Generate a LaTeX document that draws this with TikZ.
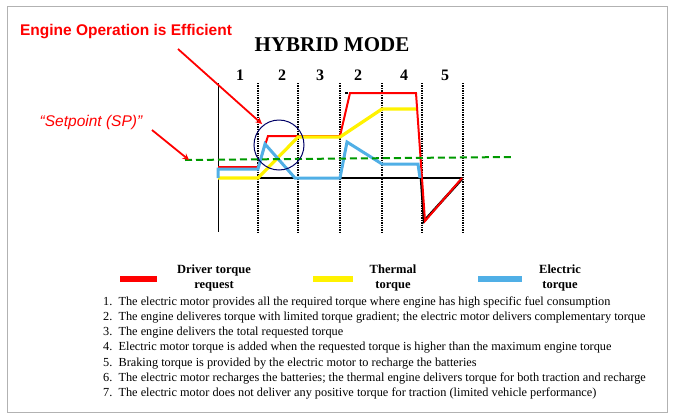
\documentclass[tikz,border=0pt]{standalone}
\usepackage{fontspec}
\setmainfont{Liberation Serif}
\newfontfamily\sans{Liberation Sans}
\begin{document}
\begin{tikzpicture}[x=1pt,y=-1pt,
  lst/.style={anchor=west,font=\fontsize{12.3}{13}\selectfont,inner sep=0},
  dot/.style={densely dotted,line width=1.4pt},
  leg/.style={font=\bfseries\fontsize{12.5}{14.5}\selectfont,align=center,inner sep=0},
  num/.style={font=\bfseries\fontsize{16}{17}\selectfont},
  bar/.style={line width=6pt}]
\useasboundingbox (0,0) rectangle (673,418);
\draw[gray!60] (7,6) rectangle (667,412);
\node[font=\bfseries\fontsize{21}{22}\selectfont] (title) at (332,45) {HYBRID MODE};
\node[num] (n1) at (240,75) {1};
\node[num] (n2) at (282,75) {2};
\node[num] (n3) at (320,75) {3};
\node[num] (n4) at (358,75) {2};
\node[num] (n5) at (404,75) {4};
\node[num] (n6) at (445,75) {5};
\draw (218,83) -- (218,232);
\foreach \x in {258,298,340,382,422,463} \draw[dot] (\x,83) -- (\x,232);
\draw[line width=1.5pt] (218,178) -- (462,178);
\draw[dashed,line width=1.5pt] (345,93) -- (416,93);
\draw[line width=2.5pt] (421,178) -- (424,221) -- (462,179);
\draw[red,line width=2pt] (218,167) -- (258,167) -- (268,136) -- (340,136) -- (350,93) -- (416,93) -- (425,221) -- (462,178);
\draw[yellow,line width=3.2pt] (218,178) -- (258,178) -- (298,137) -- (340,137) -- (382,109) -- (416,109);
\draw[cyan!80!blue!70,line width=3pt] (218,178) -- (218,169) -- (258,169) -- (265,144) -- (295,178) -- (340,178) -- (347,142) -- (382,164) -- (418,164) -- (420,178);
\draw[green!60!black,line width=2pt,dash pattern=on 7pt off 4pt] (185,160) -- (512,157);
\node[draw=blue!40!black,circle,minimum size=50pt,line width=1pt] (circ) at (279,145) {};
\node[red,font=\sans\bfseries\fontsize{15.5}{16}\selectfont] (eng) at (126,32) {Engine Operation is Efficient};
\node[red,font=\sans\itshape\fontsize{15.5}{16}\selectfont] (sp) at (91,122) {\textquotedblleft Setpoint (SP)\textquotedblright};
\coordinate (ea) at (262,124);
\coordinate (sa) at (189,160);
\draw[red,line width=1.8pt,-stealth] (178,49) -- (ea);
\draw[red,line width=1.8pt,-stealth] (152,130) -- (sa);
\draw[red,bar] (120,279) -- (157,279);
\draw[yellow,bar] (313,279) -- (353,279);
\draw[cyan!80!blue!70,bar] (478,279) -- (522,279);
\node[leg] (l1) at (214,278) {Driver torque\\request};
\node[leg] (l2) at (393,278) {Thermal\\torque};
\node[leg] (l3) at (560,278) {Electric\\torque};
\node[lst] (t1) at (103,302) {1.\enspace The electric motor provides all the required torque where engine has high specific fuel consumption};
\node[lst] (t2) at (103,317.3) {2.\enspace The engine deliveres torque with limited torque gradient; the electric motor delivers complementary torque};
\node[lst] (t3) at (103,332.6) {3.\enspace The engine delivers the total requested torque};
\node[lst] (t4) at (103,347.9) {4.\enspace Electric motor torque is added when the requested torque is higher than the maximum engine torque};
\node[lst] (t5) at (103,363.2) {5.\enspace Braking torque is provided by the electric motor to recharge the batteries};
\node[lst] (t6) at (103,378.5) {6.\enspace The electric motor recharges the batteries; the thermal engine delivers torque for both traction and recharge};
\node[lst] (t7) at (103,393.8) {7.\enspace The electric motor does not deliver any positive torque for traction (limited vehicle performance)};
\end{tikzpicture}
\end{document}
